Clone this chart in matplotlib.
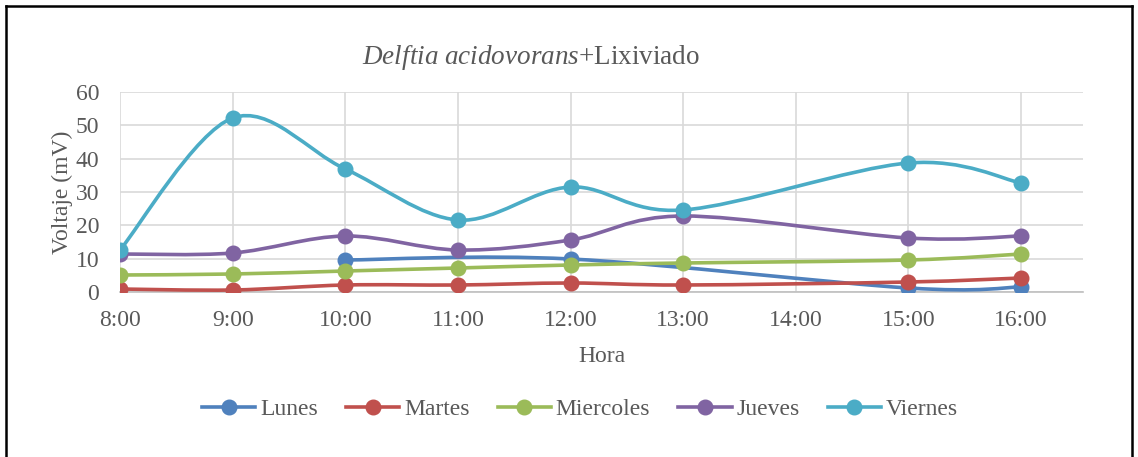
import numpy as np
import matplotlib
matplotlib.use("Agg")
import matplotlib.pyplot as plt
from matplotlib.path import Path
from matplotlib.patches import PathPatch
from matplotlib.lines import Line2D

plt.rcParams['font.family'] = ['Liberation Serif', 'DejaVu Serif']
plt.rcParams['mathtext.fontset'] = 'custom'
plt.rcParams['mathtext.rm'] = 'Liberation Serif'
plt.rcParams['mathtext.it'] = 'Liberation Serif:italic'

horas = ["8:00", "9:00", "10:00", "11:00", "12:00", "13:00", "14:00", "15:00", "16:00"]
nan = np.nan
lunes = [nan, nan, 9.6, nan, 9.9, nan, nan, 1.2, 1.5]
martes = [0.9, 0.6, 2.1, 2.1, 2.7, 2.1, nan, 3.0, 4.2]
miercoles = [5.1, 5.4, 6.3, 7.2, 8.1, 8.7, nan, 9.6, 11.4]
jueves = [11.4, 11.7, 16.8, 12.6, 15.6, 22.8, nan, 16.2, 16.8]
viernes = [12.6, 52.2, 36.9, 21.6, 31.5, 24.6, nan, 38.7, 32.7]

series = [("Lunes", lunes, "#4F81BD"),
          ("Martes", martes, "#C0504D"),
          ("Miercoles", miercoles, "#9BBB59"),
          ("Jueves", jueves, "#8064A2"),
          ("Viernes", viernes, "#4BACC6")]

gray = "#595959"


def smooth_path(x, y):
    # Excel-like smoothed line: cubic Bezier through the points
    pts = np.column_stack([x, y])
    n = len(pts)
    verts = [pts[0]]
    codes = [Path.MOVETO]
    for i in range(n - 1):
        p0 = pts[i - 1] if i > 0 else pts[i]
        p1 = pts[i]
        p2 = pts[i + 1]
        p3 = pts[i + 2] if i + 2 < n else pts[i + 1]
        c1 = p1 + (p2 - p0) / 6
        c2 = p2 - (p3 - p1) / 6
        verts += [c1, c2, p2]
        codes += [Path.CURVE4] * 3
    return Path(verts, codes)


fig = plt.figure(figsize=(11.38, 4.57), dpi=100)
ax = fig.add_axes([120 / 1138, 1 - 292 / 457, (1083 - 120) / 1138, 200 / 457])

xs = np.arange(len(horas))
handles = []
for name, vals, color in series:
    v = np.array(vals, dtype=float)
    ok = ~np.isnan(v)
    ax.add_patch(PathPatch(smooth_path(xs[ok], v[ok]), fill=False,
                           edgecolor=color, lw=2.6, capstyle='round',
                           joinstyle='round', zorder=3))
    ax.plot(xs[ok], v[ok], 'o', color=color, ms=10.5, zorder=4)
    handles.append(Line2D([], [], color=color, lw=2.6, marker='o', ms=10.5))

ax.set_xlim(0, 8.55)
ax.set_ylim(0, 60)
ax.set_yticks(range(0, 61, 10))
ax.set_xticks(xs)
ax.set_xticklabels(horas)
ax.grid(True, color="#D9D9D9", lw=1.2)
ax.set_axisbelow(True)
for s in ["top", "right", "left"]:
    ax.spines[s].set_visible(False)
ax.spines["bottom"].set_color("#BFBFBF")
ax.spines["bottom"].set_linewidth(1.2)
ax.tick_params(length=0, labelsize=17, colors=gray)
ax.tick_params(axis='x', pad=13)
ax.tick_params(axis='y', pad=15)
ax.set_xlabel("Hora", fontsize=17, color=gray, labelpad=11)
ax.set_ylabel("Voltaje (mV)", fontsize=17, color=gray, labelpad=2)

fig.text(531 / 1138, 1 - 57 / 457,
         r"$\mathit{Delftia\ acidovorans}$+Lixiviado",
         ha="center", va="center", fontsize=19.5, color=gray)

fig.legend(handles, [s[0] for s in series], loc="center",
           bbox_to_anchor=(580 / 1138, 1 - 409 / 457), ncol=5, frameon=False,
           fontsize=17, labelcolor=gray, handlelength=2.25, columnspacing=1.2,
           handletextpad=0.2)

# chart border (left, top, right)
for xy in [([6 / 1138, 6 / 1138], [0, 1 - 6 / 457]),
           ([6 / 1138, 1132 / 1138], [1 - 6 / 457, 1 - 6 / 457]),
           ([1132 / 1138, 1132 / 1138], [1 - 6 / 457, 0])]:
    fig.add_artist(Line2D(xy[0], xy[1], color="black", lw=1.8))

fig.savefig("out.png", dpi=100)
